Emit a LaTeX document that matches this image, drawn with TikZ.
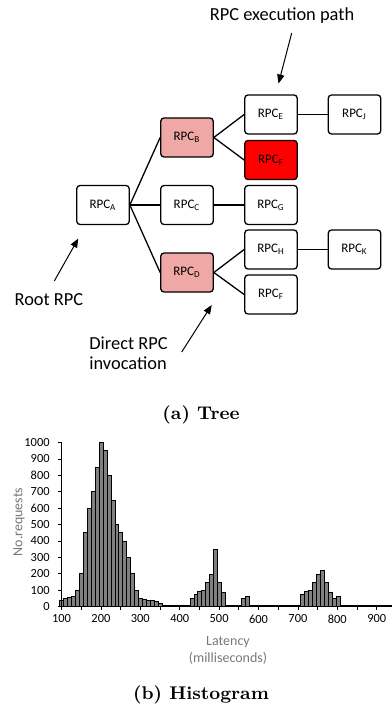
\documentclass[tikz,border=0pt]{standalone}
\usepackage{fontspec}
\newfontfamily\calibri{Carlito}
\usetikzlibrary{arrows.meta}
\definecolor{pinkrpc}{RGB}{240,168,166}
\definecolor{hotrpc}{RGB}{255,0,0}
\definecolor{bargray}{RGB}{128,128,128}
\definecolor{titlegray}{RGB}{120,120,120}
\newcommand\rpc[1]{RPC\textsubscript{#1}}

\begin{document}
\begin{tikzpicture}[x=0.5pt,y=-0.5pt,
   rpcbox/.style={draw,line width=0.65pt,rounded corners=1.6pt,fill=white,minimum width=26.2pt,minimum height=19.5pt,inner sep=0pt,font=\calibri\fontsize{6.5}{7}\selectfont},
   link/.style={line width=0.65pt},
   call/.style={line width=0.5pt,-{Triangle[length=4.5pt,width=3.6pt]}},
   note/.style={font=\calibri\fontsize{9.2}{10}\selectfont},
   caption/.style={font=\bfseries\fontsize{9.2}{11}\selectfont},
   histbar/.style={draw=black,fill=bargray,line width=0.3pt},
   ticklab/.style={font=\calibri\fontsize{6.2}{7}\selectfont,inner sep=0pt},
   axistitle/.style={font=\calibri\fontsize{7}{8.7}\selectfont,text=titlegray,align=center,inner sep=0pt}]
   \useasboundingbox (0,0) rectangle (391,711);

   \node[rpcbox] (A) at (103,205) {\rpc{A}};
   \node[rpcbox,fill=pinkrpc] (B) at (187,137.5) {\rpc{B}};
   \node[rpcbox] (C) at (187,205) {\rpc{C}};
   \node[rpcbox,fill=pinkrpc] (D) at (187,272.5) {\rpc{D}};
   \node[rpcbox] (E) at (271,114.5) {\rpc{E}};
   \node[rpcbox,fill=hotrpc] (F) at (271,160) {\rpc{F}};
   \node[rpcbox] (G) at (271,205) {\rpc{G}};
   \node[rpcbox] (H) at (271,249.5) {\rpc{H}};
   \node[rpcbox] (F2) at (271,294.5) {\rpc{F}};
   \node[rpcbox] (J) at (354.5,114.5) {\rpc{J}};
   \node[rpcbox] (K) at (354.5,249.5) {\rpc{K}};
   \draw[link] (A.east) -- (B.west);
   \draw[link] (A.east) -- (C.west);
   \draw[link] (A.east) -- (D.west);
   \draw[link] (B.east) -- (E.west);
   \draw[link] (B.east) -- (F.west);
   \draw[link] (C.east) -- (G.west);
   \draw[link] (D.east) -- (H.west);
   \draw[link] (D.east) -- (F2.west);
   \draw[link] (E.east) -- (J.west);
   \draw[link] (H.east) -- (K.west);

   \node[note] (pathnote) at (282,16) {RPC execution path};
   \coordinate (pathtail) at (291.7,33);
   \coordinate (pathtip) at (278.5,83.5);
   \draw[call] (pathtail) -- (pathtip);
   \node[note] (rootnote) at (49,300) {Root RPC};
   \coordinate (roottail) at (54.3,281);
   \coordinate (roottip) at (78.3,238.5);
   \draw[call] (roottail) -- (roottip);
   \node[note,anchor=west,align=left,inner sep=0pt] (directnote) at (89,353) {Direct RPC\\invocation};
   \coordinate (directtail) at (181.7,352);
   \coordinate (directtip) at (211.7,305);
   \draw[call] (directtail) -- (directtip);
   \node[caption] (capa) at (201,415) {(a) Tree};

   % histogram
   \foreach \h [count=\i from 0] in {40,50,55,60,100,200,450,600,700,850,
      1000,950,800,650,500,450,400,300,200,100,
      50,45,40,35,30,20,10,10,10,10,
      10,10,10,47,73,91,99,148,199,347,
      148,89,10,10,10,10,47,61,10,10,
      10,10,10,10,10,10,10,10,10,10,
      10,73,91,97,148,199,219,148,87,47,
      61,10,10,10,10,10,10,10,10,10,
      10,10,10,10}
      \draw[histbar] ({59.5+3.95*\i},606.5) rectangle ++(3.95,{-0.164*\h});
   \draw[line width=0.4pt] (61.5,442.5) -- (61.5,606.5);
   \draw[line width=0.4pt] (61.5,606.5) -- (391,606.5);
   \foreach \v in {0,100,...,1000} {
      \draw[line width=0.4pt] (57.5,{606.5-0.164*\v}) -- (61.5,{606.5-0.164*\v});
      \node[ticklab,anchor=east] (yl\v) at (50,{606.5-0.164*\v}) {\v};
   }
   \foreach \k in {0,...,16}
      \draw[line width=0.4pt] ({61.5+19.7*\k},606.5) -- ++(0,3.5);
   \foreach \v [count=\k from 0] in {100,200,...,900}
      \node[ticklab] (xl\v) at ({61.5+39.4*\k},619) {\v};
   \node[axistitle,rotate=90] (ytitle) at (19,522) {No.requests};
   \node[axistitle] (xtitle) at (228,650.5) {Latency\\(milliseconds)};
   \node[caption] (capb) at (201,695) {(b) Histogram};
\end{tikzpicture}
\end{document}
